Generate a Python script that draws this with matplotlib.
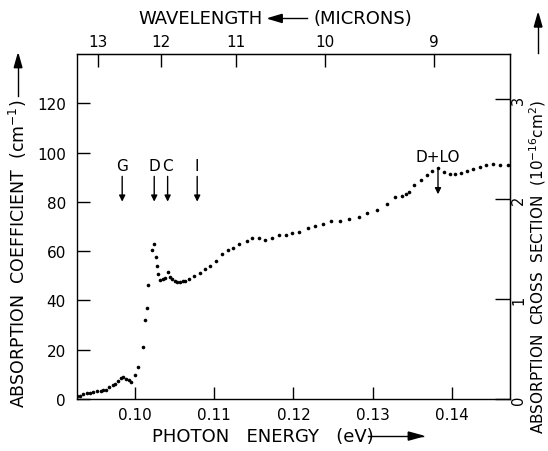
import matplotlib
matplotlib.use("Agg")
import numpy as np
import matplotlib.pyplot as plt

# photon energy (eV) and absorption coefficient (cm^-1)
energy = [0.09272, 0.09306, 0.09348, 0.09391, 0.09432, 0.09474, 0.09524, 0.09567,
          0.09600, 0.09634, 0.09676, 0.09719, 0.09751, 0.09789, 0.09823, 0.09852,
          0.09886, 0.09921, 0.09953, 0.09996, 0.10044, 0.10097, 0.10132, 0.10148,
          0.10167, 0.10217, 0.10244, 0.10266, 0.10280, 0.10294, 0.10322, 0.10356,
          0.10381, 0.10414, 0.10448, 0.10473, 0.10505, 0.10534, 0.10568, 0.10603,
          0.10638, 0.10688, 0.10751, 0.10824, 0.10890, 0.10953, 0.11029, 0.11094,
          0.11170, 0.11240, 0.11316, 0.11409, 0.11476, 0.11561, 0.11640, 0.11732,
          0.11817, 0.11905, 0.11985, 0.12073, 0.12183, 0.12271, 0.12369, 0.12477,
          0.12583, 0.12704, 0.12823, 0.12928, 0.13054, 0.13176, 0.13285, 0.13365,
          0.13416, 0.13461, 0.13524, 0.13612, 0.13681, 0.13744, 0.13817, 0.13899,
          0.13971, 0.14038, 0.14117, 0.14189, 0.14269, 0.14348, 0.14424, 0.14517,
          0.14606, 0.14710]
alpha = [1.1, 1.3, 1.9, 2.3, 2.6, 2.8, 3.2, 3.4,
         3.5, 3.8, 4.7, 5.7, 6.2, 7.2, 8.5, 8.8,
         8.1, 7.6, 6.8, 9.7, 13.2, 21.3, 32.0, 36.9,
         46.2, 60.3, 62.8, 57.7, 54.1, 50.7, 48.2, 48.7,
         49.2, 51.4, 49.6, 48.7, 48.0, 47.6, 47.6, 47.9,
         48.0, 48.7, 49.8, 51.2, 52.7, 54.1, 56.1, 58.8,
         60.4, 61.3, 62.8, 64.0, 65.2, 65.2, 64.6, 65.2,
         66.4, 66.7, 67.3, 68.0, 69.4, 70.1, 71.1, 72.2,
         72.3, 73.1, 73.8, 75.5, 76.7, 79.0, 81.9, 82.4,
         83.4, 84.1, 86.8, 88.8, 90.9, 92.5, 93.9, 92.1,
         91.4, 91.3, 91.8, 92.4, 93.3, 94.2, 94.9, 95.5,
         95.2, 95.1]

# marked transitions
line_names = ["G", "D", "C", "I"]
line_energy = [0.09840, 0.10244, 0.10413, 0.10786]

energy_ticks = [0.10, 0.11, 0.12, 0.13, 0.14]
alpha_ticks = [0, 20, 40, 60, 80, 100, 120]
wave_ticks = [13, 12, 11, 10, 9]
sigma_ticks = [0, 1, 2, 3]

HC = 1.23984      # eV * micron
SIGMA_FAC = 40.6  # cm^-1 per 1e-16 cm^2

fig = plt.figure(figsize=(5.48, 4.52), dpi=100)
ax = fig.add_axes([0.1405, 0.115, 0.79, 0.763])

ax.plot(energy, alpha, "o", color="k", ms=2.6, mec="none")
ax.set_xlim(0.0927, 0.1473)
ax.set_ylim(0, 140)

ax.set_xticks(energy_ticks)
ax.set_xticklabels(["%.2f" % e for e in energy_ticks])
ax.set_yticks(alpha_ticks)
ax.tick_params(axis="both", direction="in", length=9, width=1, labelsize=11, pad=6)
ax.tick_params(axis="y", pad=8)
for s in ax.spines.values():
    s.set_linewidth(1)

# wavelength axis on top
top = ax.secondary_xaxis("top", functions=(lambda e: HC / np.maximum(e, 1e-6),
                                           lambda w: HC / np.maximum(w, 1e-6)))
top.set_xticks(wave_ticks)
top.tick_params(direction="in", length=9, width=1, labelsize=11, pad=4)

# cross section axis on right
right = ax.secondary_yaxis("right", functions=(lambda a: a / SIGMA_FAC,
                                               lambda s: s * SIGMA_FAC))
right.set_yticks(sigma_ticks)
right.tick_params(direction="in", length=11, width=1, labelsize=10.5, pad=1)
for lab in right.get_yticklabels():
    lab.set_rotation(90)
    lab.set_rotation_mode("anchor")
    lab.set_ha("center")
    lab.set_va("top")

# arrows for transitions
for name, e in zip(line_names, line_energy):
    ax.text(e, 94.9, name, ha="center", va="center", fontsize=11)
    ax.annotate("", xy=(e, 79.0), xytext=(e, 91.5),
                arrowprops=dict(arrowstyle="-|>", color="k", lw=1, mutation_scale=9))
ax.text(0.13823, 98.6, "D+LO", ha="center", va="center", fontsize=11)
ax.annotate("", xy=(0.13823, 82.0), xytext=(0.13823, 94.2),
            arrowprops=dict(arrowstyle="-|>", color="k", lw=1, mutation_scale=9))

# axis titles
fig.text(0.48, 0.958, "WAVELENGTH", ha="right", va="center", fontsize=13)
fig.text(0.572, 0.958, "(MICRONS)", ha="left", va="center", fontsize=13)
fig.add_artist(plt.Line2D([0.49, 0.56], [0.957, 0.957], color="k", lw=1))
fig.add_artist(plt.Polygon([[0.49, 0.957], [0.515, 0.966], [0.515, 0.948]],
                           closed=True, color="k"))

fig.text(0.48, 0.033, "PHOTON   ENERGY   (eV)", ha="center", va="center", fontsize=13)
fig.add_artist(plt.Line2D([0.672, 0.772], [0.033, 0.033], color="k", lw=1))
fig.add_artist(plt.Polygon([[0.772, 0.033], [0.745, 0.042], [0.745, 0.024]],
                           closed=True, color="k"))

fig.text(0.033, 0.438, "ABSORPTION  COEFFICIENT  (cm$^{-1}$)", rotation=90,
         ha="center", va="center", fontsize=12.5)
fig.add_artist(plt.Line2D([0.033, 0.033], [0.785, 0.87], color="k", lw=1))
fig.add_artist(plt.Polygon([[0.033, 0.878], [0.026, 0.848], [0.040, 0.848]],
                           closed=True, color="k"))

fig.text(0.981, 0.41, "ABSORPTION  CROSS  SECTION  (10$^{-16}$cm$^2$)", rotation=90,
         ha="center", va="center", fontsize=11)
fig.add_artist(plt.Line2D([0.982, 0.982], [0.88, 0.96], color="k", lw=1))
fig.add_artist(plt.Polygon([[0.982, 0.968], [0.975, 0.938], [0.989, 0.938]],
                           closed=True, color="k"))

fig.savefig("out.png", dpi=100)
